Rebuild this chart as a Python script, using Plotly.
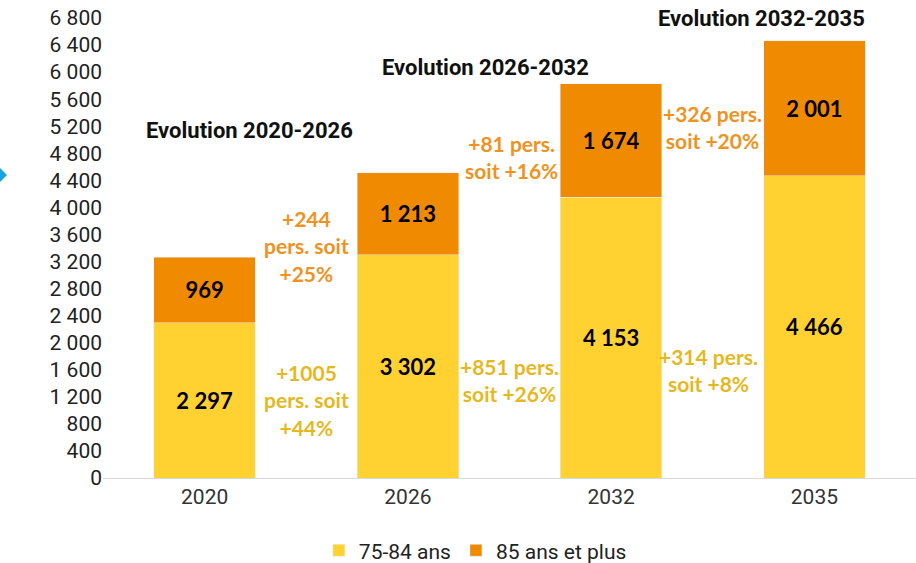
import plotly.graph_objects as go

years = ["2020", "2026", "2032", "2035"]
age_75_84 = [2297, 3302, 4153, 4466]
age_85_plus = [969, 1213, 1674, 2001]
series_names = ["75-84 ans", "85 ans et plus"]

period_titles = ["Evolution 2020-2026", "Evolution 2026-2032", "Evolution 2032-2035"]
evol_85 = ["+244<br>pers. soit<br>+25%", "+81 pers.<br>soit +16%", "+326 pers.<br>soit +20%"]
evol_75 = ["+1005<br>pers. soit<br>+44%", "+851 pers.<br>soit +26%", "+314 pers.<br>soit +8%"]

YELLOW = "#FFD232"
ORANGE = "#F08A00"
TXT_ORANGE = "#F0921E"
TXT_YELLOW = "#E6B81E"

fig = go.Figure()
fig.add_trace(go.Bar(
    x=years, y=age_75_84, name=series_names[0], marker_color=YELLOW,
    text=age_75_84, texttemplate="<b>%{y:,}</b>", textposition="inside",
    insidetextanchor="middle", textangle=0,
    textfont=dict(family="Lato", size=22, color="black"),
))
fig.add_trace(go.Bar(
    x=years, y=age_85_plus, name=series_names[1], marker_color=ORANGE,
    text=age_85_plus, texttemplate="<b>%{y:,}</b>", textposition="inside",
    insidetextanchor="middle", textangle=0,
    textfont=dict(family="Lato", size=22, color="black"),
))

# annotation placement (positions, not data)
title_pos = [(0.223, 5144), (1.384, 6075), (2.74, 6800)]
o_pos = [(0.5, 3430), (1.51, 4745), (2.5, 5188)]
y_pos = [(0.5, 1153), (1.5, 1449), (2.48, 1596)]

for t, (x, y) in zip(period_titles, title_pos):
    fig.add_annotation(x=x, y=y, xref="x", yref="y", text="<b>" + t + "</b>",
                       showarrow=False, font=dict(family="Roboto", size=22, color="#111111"))
for t, (x, y) in zip(evol_85, o_pos):
    fig.add_annotation(x=x, y=y, xref="x", yref="y", text="<b>" + t + "</b>",
                       showarrow=False, font=dict(family="Lato", size=21, color=TXT_ORANGE))
for t, (x, y) in zip(evol_75, y_pos):
    fig.add_annotation(x=x, y=y, xref="x", yref="y", text="<b>" + t + "</b>",
                       showarrow=False, font=dict(family="Lato", size=21, color=TXT_YELLOW))

# blue decorative marker at the left edge
L, W, T, H = 103, 813, 18, 460
def px(xp):
    return (xp - L) / W
def py(yp):
    return (T + H - yp) / H
path = "M {} {} L {} {} L {} {} L {} {} Z".format(
    px(-9), py(175), px(-1), py(167), px(7), py(175), px(-1), py(183))
fig.add_shape(type="path", path=path, xref="paper", yref="paper",
              fillcolor="#1AA3E0", line=dict(width=0), layer="above")

fig.update_layout(
    width=916, height=563,
    margin=dict(l=L, r=0, t=T, b=85, autoexpand=False),
    barmode="stack", bargap=0.5,
    plot_bgcolor="white", paper_bgcolor="white",
    separators=", ",
    font=dict(family="Roboto", size=16, color="#222222"),
    showlegend=True,
    legend=dict(orientation="h", x=0.458, xanchor="center", y=-0.158, yanchor="middle",
                font=dict(family="Roboto", size=21, color="#222222"),
                traceorder="normal", itemwidth=30),
    xaxis=dict(type="category", showline=True, linecolor="#D9D9D9", linewidth=1,
               ticks="", tickfont=dict(family="Roboto", size=21, color="#333333")),
    yaxis=dict(range=[0, 6800], dtick=400, tick0=0, showgrid=False, zeroline=False,
               showline=False, ticks="", tickformat=",",
               tickfont=dict(family="Roboto", size=21, color="#222222")),
)

fig.write_html("out.html", config={"displayModeBar": False},
               post_script="document.body.style.margin='0';")
